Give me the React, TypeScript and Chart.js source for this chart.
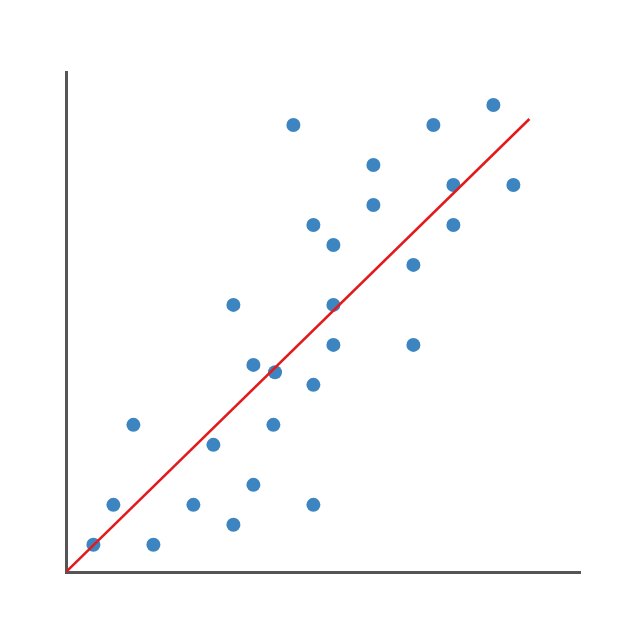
import { useEffect, useRef } from "react"
import { Chart, registerables } from "chart.js"

Chart.register(...registerables)

// observed values (grid units)
const xValues = [1, 2, 3, 4, 6, 7, 8, 8, 9, 9, 10, 10.08, 11, 12, 12, 12, 13, 13, 13, 15, 15, 17, 17, 18, 19, 19, 21, 22]
const yValues = [1, 3, 7, 1, 3, 6, 2, 13, 4, 10, 7, 9.63, 22, 17, 9, 3, 16, 13, 11, 20, 18, 15, 11, 22, 19, 17, 23, 19]

// fitted line end points
const fitX = [-0.37, 22.8]
const fitY = [-0.36, 22.3]

const xRange = [-0.37, 25.33]
const yRange = [-0.36, 24.65]

export default function App() {
  const chartRef = useRef<HTMLCanvasElement>(null)
  const chartInstance = useRef<Chart | null>(null)

  useEffect(() => {
    if (!chartRef.current) return
    if (chartInstance.current) chartInstance.current.destroy()

    const ctx = chartRef.current.getContext("2d")
    if (!ctx) return

    const axis = (min: number, max: number) => ({
      type: "linear" as const,
      min,
      max,
      ticks: { display: false },
      grid: { display: false, drawTicks: false, tickLength: 0 },
      border: { display: true, color: "#555555", width: 3 },
    })

    chartInstance.current = new Chart(ctx, {
      type: "scatter",
      data: {
        datasets: [
          {
            label: "fit",
            type: "line",
            data: fitX.map((x, i) => ({ x, y: fitY[i] })),
            borderColor: "#e31a1c",
            borderWidth: 2.5,
            pointRadius: 0,
            fill: false,
            order: 1,
          },
          {
            label: "points",
            data: xValues.map((x, i) => ({ x, y: yValues[i] })),
            backgroundColor: "#3d85c0",
            borderWidth: 0,
            pointRadius: 7,
            order: 2,
          },
        ],
      },
      options: {
        animation: false,
        responsive: false,
        maintainAspectRatio: false,
        layout: { padding: { left: 66, right: 60, top: 72, bottom: 68 } },
        plugins: {
          legend: { display: false },
          tooltip: { enabled: false },
        },
        scales: {
          x: axis(xRange[0], xRange[1]),
          y: axis(yRange[0], yRange[1]),
        },
      },
    })

    return () => {
      if (chartInstance.current) {
        chartInstance.current.destroy()
        chartInstance.current = null
      }
    }
  }, [])

  return (
    <div style={{ position: "fixed", left: 0, top: 0, width: 640, height: 640, background: "#fff" }}>
      <canvas ref={chartRef} width={640} height={640}></canvas>
    </div>
  )
}
